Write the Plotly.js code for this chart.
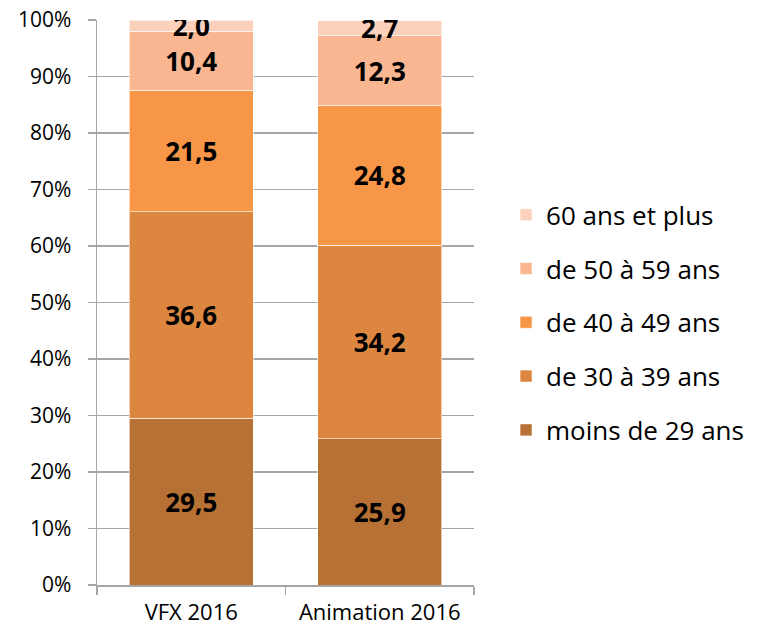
<!DOCTYPE html>
<html>
<head>
<meta charset="utf-8">
<script src="https://cdn.plot.ly/plotly-3.0.1.min.js"></script>
<style>html,body{margin:0;padding:0;background:#fff}#chart{width:757px;height:630px}</style>
</head>
<body>
<div id="chart"></div>
<script>
const categories = ["VFX 2016", "Animation 2016"];
const seriesNames = ["moins de 29 ans", "de 30 à 39 ans", "de 40 à 49 ans", "de 50 à 59 ans", "60 ans et plus"];
const under29 = [29.5, 25.9];
const age30to39 = [36.6, 34.2];
const age40to49 = [21.5, 24.8];
const age50to59 = [10.4, 12.3];
const age60plus = [2.0, 2.7];
const seriesValues = [under29, age30to39, age40to49, age50to59, age60plus];
const colors = ["#B87134", "#DC8640", "#F79646", "#F9B691", "#FCD1BB"];

const fmt = v => v.toFixed(1).replace(".", ",");
const FONT = "'Open Sans', Lato, sans-serif";

const traces = seriesValues.map((vals, i) => ({
  type: "bar",
  name: seriesNames[i],
  legendgroup: "g" + i,
  legendrank: seriesValues.length - i,
  x: categories,
  y: vals,
  text: vals.map(fmt),
  textposition: "inside",
  insidetextanchor: "middle",
  constraintext: "none",
  textangle: 0,
  textfont: {family: FONT, size: 26, color: "#000", weight: "bold"},
  marker: {color: colors[i], line: {color: "rgba(255,255,255,0.6)", width: 1}},
  hoverinfo: "none"
}));

const layout = {
  width: 757, height: 630,
  margin: {l: 97, r: 283, t: 20, b: 45, autoexpand: false},
  barmode: "stack",
  bargap: 0.34,
  paper_bgcolor: "#fff",
  plot_bgcolor: "#fff",
  font: {family: FONT, color: "#000"},
  xaxis: {
    type: "category",
    tickson: "boundaries",
    ticks: "outside", ticklen: 8, tickcolor: "#A6A6A6", tickwidth: 1.5,
    showline: true, linecolor: "#A6A6A6", linewidth: 1.5,
    tickfont: {size: 22},
    ticklabelstandoff: 7,
    showgrid: false
  },
  yaxis: {
    range: [0, 100], dtick: 10, ticksuffix: "%",
    ticks: "outside", ticklen: 8, tickcolor: "#A6A6A6", tickwidth: 1.5,
    showline: true, linecolor: "#A6A6A6", linewidth: 1.5,
    showgrid: true, gridcolor: "#A6A6A6", gridwidth: 1.5,
    zeroline: false,
    ticklabelstandoff: 12,
    tickfont: {size: 21}
  },
  showlegend: true,
  legend: {
    x: 1.085, xanchor: "left", y: 0.465, yanchor: "middle",
    traceorder: "grouped",
    tracegroupgap: 17,
    font: {size: 26},
    bgcolor: "rgba(0,0,0,0)"
  }
};

Plotly.newPlot("chart", traces, layout, {displayModeBar: false, staticPlot: true});
</script>
</body>
</html>
